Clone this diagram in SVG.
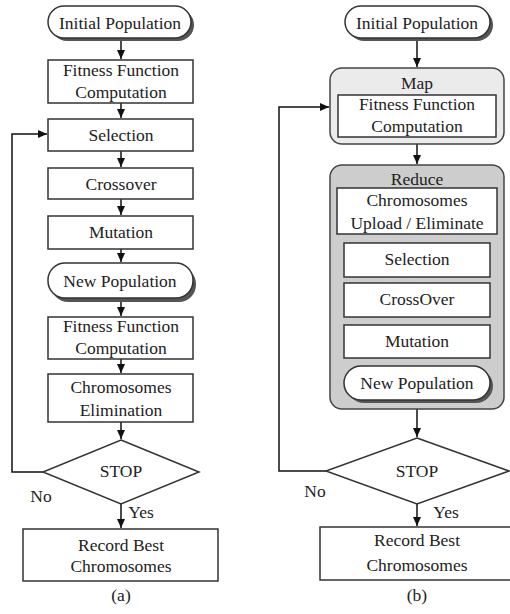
<svg xmlns="http://www.w3.org/2000/svg" width="510" height="614" viewBox="0 0 510 614">
<style>
text{font-family:"Liberation Serif","Times New Roman",serif;font-size:17.5px;fill:#222;text-anchor:middle}
.box{fill:#fff;stroke:#333;stroke-width:1.5}
.sh{fill:#555}
.map{fill:#ebebeb;stroke:#444;stroke-width:1.5}
.red{fill:#cdcdcd;stroke:#444;stroke-width:1.5}
.ln{fill:none;stroke:#111;stroke-width:1.5}
</style>
<defs>
<marker id="ah" markerWidth="10" markerHeight="8" refX="9" refY="4" orient="auto" markerUnits="userSpaceOnUse">
<path d="M0,0 L9,4 L0,8 Z" fill="#111"/>
</marker>
</defs>
<rect width="510" height="614" fill="#fff"/>

<g id="connectors">
<line class="ln" x1="121" y1="40" x2="121" y2="59" marker-end="url(#ah)"/>
<line class="ln" x1="121" y1="103" x2="121" y2="118" marker-end="url(#ah)"/>
<line class="ln" x1="121" y1="151" x2="121" y2="167" marker-end="url(#ah)"/>
<line class="ln" x1="121" y1="199" x2="121" y2="215" marker-end="url(#ah)"/>
<line class="ln" x1="121" y1="249" x2="121" y2="262" marker-end="url(#ah)"/>
<line class="ln" x1="121" y1="299" x2="121" y2="316" marker-end="url(#ah)"/>
<line class="ln" x1="121" y1="359" x2="121" y2="373" marker-end="url(#ah)"/>
<line class="ln" x1="121" y1="422" x2="121" y2="439" marker-end="url(#ah)"/>
<line class="ln" x1="121" y1="504" x2="121" y2="528" marker-end="url(#ah)"/>
<polyline class="ln" points="43,472 12,472 12,134 47,134" marker-end="url(#ah)"/>

<line class="ln" x1="417" y1="40" x2="417" y2="67" marker-end="url(#ah)"/>
<line class="ln" x1="417" y1="144" x2="417" y2="164" marker-end="url(#ah)"/>
<line class="ln" x1="417" y1="409" x2="417" y2="437" marker-end="url(#ah)"/>
<line class="ln" x1="417" y1="504" x2="417" y2="526" marker-end="url(#ah)"/>
<polyline class="ln" points="326,471 279,471 279,107 329,107" marker-end="url(#ah)"/>
</g>

<!-- Left (a) -->
<g id="a-initial">
<rect class="sh" x="51" y="9" width="143" height="32" rx="16"/>
<rect class="box" x="48" y="6" width="143" height="32" rx="16"/>
<text x="120" y="29">Initial Population</text>
</g>
<g id="a-fitness1">
<rect class="box" x="48" y="60" width="145" height="43"/>
<text x="121" y="76">Fitness Function</text>
<text x="121" y="98">Computation</text>
</g>
<g id="a-selection">
<rect class="box" x="48" y="119" width="145" height="32"/>
<text x="121" y="141">Selection</text>
</g>
<g id="a-crossover">
<rect class="box" x="48" y="168" width="145" height="31"/>
<text x="121" y="190">Crossover</text>
</g>
<g id="a-mutation">
<rect class="box" x="48" y="216" width="145" height="33"/>
<text x="121" y="238">Mutation</text>
</g>
<g id="a-newpop">
<rect class="sh" x="51" y="267" width="145" height="35" rx="17"/>
<rect class="box" x="48" y="263" width="145" height="35" rx="17"/>
<text x="120" y="287">New Population</text>
</g>
<g id="a-fitness2">
<rect class="box" x="48" y="317" width="145" height="42"/>
<text x="121" y="332">Fitness Function</text>
<text x="121" y="354">Computation</text>
</g>
<g id="a-elim">
<rect class="box" x="48" y="374" width="145" height="48"/>
<text x="121" y="393">Chromosomes</text>
<text x="121" y="416">Elimination</text>
</g>
<g id="a-stop">
<polygon class="box" points="121,440 199,472 121,504 43,472"/>
<text x="121" y="477">STOP</text>
</g>
<text x="41" y="502">No</text>
<text x="141" y="518">Yes</text>
<g id="a-record">
<rect class="box" x="23" y="529" width="195" height="52"/>
<text x="121" y="551">Record Best</text>
<text x="121" y="572">Chromosomes</text>
</g>
<text x="121" y="601">(a)</text>

<!-- Right (b) -->
<g id="b-initial">
<rect class="sh" x="348" y="9" width="145" height="32" rx="16"/>
<rect class="box" x="345" y="6" width="145" height="32" rx="16"/>
<text x="417" y="29">Initial Population</text>
</g>
<g id="b-map">
<rect class="map" x="330" y="68" width="174" height="76" rx="12"/>
<text x="417" y="89">Map</text>
<rect class="box" x="338" y="95" width="158" height="42"/>
<text x="417" y="110">Fitness Function</text>
<text x="417" y="132">Computation</text>
</g>
<g id="b-reduce">
<rect class="red" x="330" y="165" width="174" height="244" rx="12"/>
<text x="417" y="185">Reduce</text>
<g id="b-upload">
<rect class="box" x="337" y="188" width="160" height="46"/>
<text x="417" y="206">Chromosomes</text>
<text x="417" y="229">Upload / Eliminate</text>
</g>
<g id="b-selection">
<rect class="box" x="344" y="243" width="146" height="34"/>
<text x="417" y="265">Selection</text>
</g>
<g id="b-crossover">
<rect class="box" x="344" y="283" width="146" height="34"/>
<text x="417" y="305">CrossOver</text>
</g>
<g id="b-mutation">
<rect class="box" x="344" y="325" width="146" height="33"/>
<text x="417" y="347">Mutation</text>
</g>
<g id="b-newpop">
<rect class="sh" x="347" y="369" width="146" height="34" rx="17"/>
<rect class="box" x="344" y="366" width="146" height="34" rx="17"/>
<text x="417" y="389">New Population</text>
</g>
</g>
<g id="b-stop">
<polygon class="box" points="417,438 509,471 417,504 326,471"/>
<text x="417" y="477">STOP</text>
</g>
<text x="315" y="497">No</text>
<text x="446" y="518">Yes</text>
<g id="b-record">
<rect class="box" x="320" y="527" width="196" height="53"/>
<text x="417" y="546">Record Best</text>
<text x="417" y="571">Chromosomes</text>
</g>
<text x="417" y="601">(b)</text>
</svg>
